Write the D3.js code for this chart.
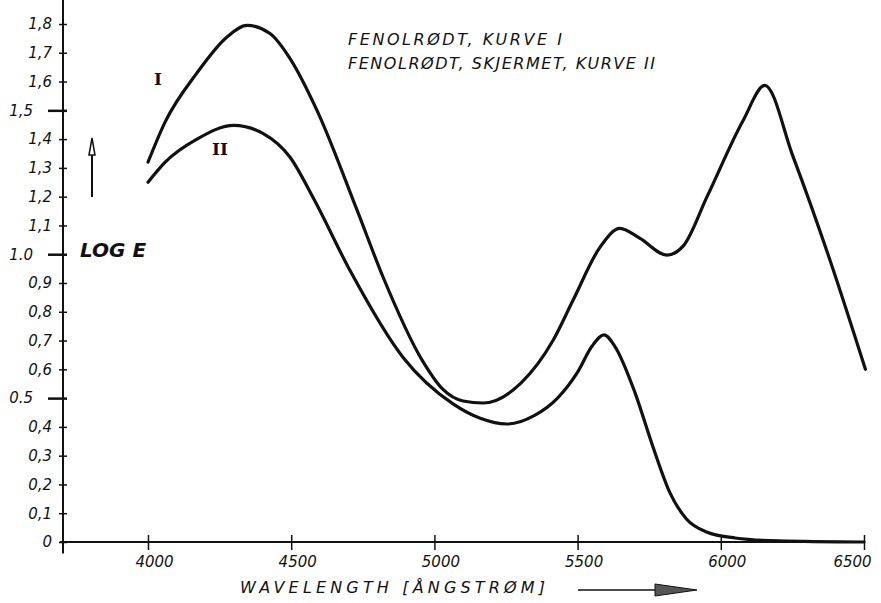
<!DOCTYPE html>
<html>
<head>
<meta charset="utf-8">
<script src="https://cdn.jsdelivr.net/npm/d3@7"></script>
<style>
  body { margin: 0; background: #fff; }
  svg text { fill: #111; }
</style>
</head>
<body>
<svg id="chart" width="881" height="603"></svg>
<script>
// wavelength (Ångström) vs log E
const curveI = [
  [4000, 1.32], [4060, 1.46], [4171, 1.63], [4276, 1.755], [4346, 1.795],
  [4426, 1.767], [4496, 1.68], [4590, 1.50], [4730, 1.153], [4821, 0.92],
  [4957, 0.632], [5030, 0.53], [5100, 0.49], [5170, 0.483], [5302, 0.552],
  [5414, 0.70], [5484, 0.84], [5578, 1.024], [5648, 1.09], [5718, 1.055],
  [5812, 0.997], [5870, 1.03], [5952, 1.20], [6078, 1.465], [6154, 1.587],
  [6252, 1.34], [6381, 0.98], [6505, 0.60]
]
const curveII = [
  [4000, 1.25], [4060, 1.32], [4171, 1.40], [4300, 1.448], [4401, 1.42],
  [4496, 1.337], [4580, 1.19], [4705, 0.944], [4890, 0.642], [5065, 0.48],
  [5160, 0.43], [5253, 0.41], [5350, 0.44], [5430, 0.50], [5500, 0.59],
  [5550, 0.68], [5592, 0.72], [5630, 0.68], [5700, 0.52], [5760, 0.34],
  [5823, 0.17], [5880, 0.08], [5950, 0.035], [6050, 0.014], [6200, 0.004],
  [6500, 0]
]

const xTicks = [4000, 4500, 5000, 5500, 6000, 6500]
const xTickLabels = ['4000', '4500', '5000', '5500', '6000', '6500']
const yTicks = [0, 0.1, 0.2, 0.3, 0.4, 0.5, 0.6, 0.7, 0.8, 0.9, 1.0, 1.1, 1.2, 1.3, 1.4, 1.5, 1.6, 1.7, 1.8]
const yTickLabels = ['0', '0,1', '0,2', '0,3', '0,4', '0.5', '0,6', '0,7', '0,8', '0,9', '1.0',
  '1,1', '1,2', '1,3', '1,4', '1,5', '1,6', '1,7', '1,8']
const majorTicks = [0.5, 1.0, 1.5]

const legendLines = ['FENOLRØDT, KURVE I', 'FENOLRØDT, SKJERMET, KURVE II']

const svg = d3.select('#chart')
const ink = '#111'
const hand = "'DejaVu Sans', sans-serif"

// scales
const x = d3.scaleLinear().domain([4000, 6500]).range([148, 864])
const y = d3.scaleLinear().domain([0, 1.8]).range([542, 24])

// y axis (vertical line drawn by hand below, ticks cross the line)
const yAxis = d3.axisLeft(y)
  .tickValues(yTicks)
  .tickFormat((d, i) => yTickLabels[i])
  .tickSizeOuter(0)

const yG = svg.append('g')
  .attr('transform', 'translate(63,0)')
  .call(yAxis)
yG.select('.domain').remove()
yG.selectAll('.tick line')
  .attr('x1', 4)
  .attr('x2', d => majorTicks.includes(d) ? -15 : -4)
  .attr('stroke', ink)
  .attr('stroke-width', d => majorTicks.includes(d) ? 2.5 : 1.5)
yG.selectAll('.tick text')
  .attr('x', d => majorTicks.includes(d) ? -30 : -11)
  .attr('font-family', hand)
  .attr('font-style', 'italic')
  .attr('font-size', 15)
  .attr('fill', ink)

svg.append('line')
  .attr('x1', 63).attr('x2', 63)
  .attr('y1', 0).attr('y2', y(-0.04))
  .attr('stroke', ink).attr('stroke-width', 2)

// x axis
const xAxis = d3.axisBottom(x)
  .tickValues(xTicks)
  .tickFormat((d, i) => xTickLabels[i])
  .tickSizeOuter(0)

const xG = svg.append('g')
  .attr('transform', `translate(0,${y(0)})`)
  .call(xAxis)
xG.select('.domain').remove()
xG.selectAll('.tick line')
  .attr('y1', -7).attr('y2', 8)
  .attr('stroke', ink).attr('stroke-width', 1.5)
xG.selectAll('.tick text')
  .attr('y', 14)
  .attr('dy', '0.71em')
  .attr('dx', d => d === 6500 ? -12 : 6)
  .attr('font-family', hand)
  .attr('font-style', 'italic')
  .attr('font-size', 15)
  .attr('fill', ink)

svg.append('line')
  .attr('x1', 60).attr('x2', x(6500))
  .attr('y1', y(0)).attr('y2', y(0))
  .attr('stroke', ink).attr('stroke-width', 2)

// the two curves
const line = d3.line()
  .x(d => x(d[0]))
  .y(d => y(d[1]))
  .curve(d3.curveMonotoneX)

svg.append('path')
  .datum(curveI)
  .attr('d', line)
  .attr('fill', 'none')
  .attr('stroke', ink)
  .attr('stroke-width', 3.2)
  .attr('stroke-linecap', 'round')

svg.append('path')
  .datum(curveII)
  .attr('d', line)
  .attr('fill', 'none')
  .attr('stroke', ink)
  .attr('stroke-width', 3.2)
  .attr('stroke-linecap', 'round')

// curve names
svg.append('text')
  .attr('x', 158).attr('y', 85)
  .attr('text-anchor', 'middle')
  .attr('font-family', "'DejaVu Serif', serif")
  .attr('font-weight', 'bold')
  .attr('font-size', 17)
  .text('I')
svg.append('text')
  .attr('x', 220).attr('y', 155)
  .attr('text-anchor', 'middle')
  .attr('font-family', "'DejaVu Serif', serif")
  .attr('font-weight', 'bold')
  .attr('font-size', 17)
  .text('II')

// legend text up top
const legendWidths = [214, 307]
svg.selectAll('.legend')
  .data(legendLines)
  .join('text')
    .attr('class', 'legend')
    .attr('x', 348)
    .attr('y', (d, i) => 45 + i * 24)
    .attr('textLength', (d, i) => legendWidths[i])
    .attr('lengthAdjust', 'spacing')
    .attr('font-family', hand)
    .attr('font-style', 'italic')
    .attr('font-size', 16)
    .text(d => d)

// y label + arrow
svg.append('text')
  .attr('x', 80).attr('y', 257)
  .attr('font-family', hand)
  .attr('font-style', 'italic')
  .attr('font-weight', 'bold')
  .attr('font-size', 20)
  .text('LOG E')

svg.append('line')
  .attr('x1', 92).attr('x2', 92)
  .attr('y1', 197).attr('y2', 144)
  .attr('stroke', ink).attr('stroke-width', 2)
svg.append('path')
  .attr('d', 'M89,155 L92,138 L95,155 Z')
  .attr('fill', '#fff').attr('stroke', ink).attr('stroke-width', 1.5)

// x label + arrow
svg.append('text')
  .attr('x', 240).attr('y', 593)
  .attr('textLength', 305)
  .attr('lengthAdjust', 'spacing')
  .attr('font-family', hand)
  .attr('font-style', 'italic')
  .attr('font-size', 16)
  .text('WAVELENGTH [ÅNGSTRØM]')

svg.append('line')
  .attr('x1', 578).attr('x2', 660)
  .attr('y1', 590).attr('y2', 590)
  .attr('stroke', ink).attr('stroke-width', 1.5)
svg.append('path')
  .attr('d', 'M655,584 L697,590 L655,596 Z')
  .attr('fill', '#555').attr('stroke', ink).attr('stroke-width', 1)
</script>
</body>
</html>
